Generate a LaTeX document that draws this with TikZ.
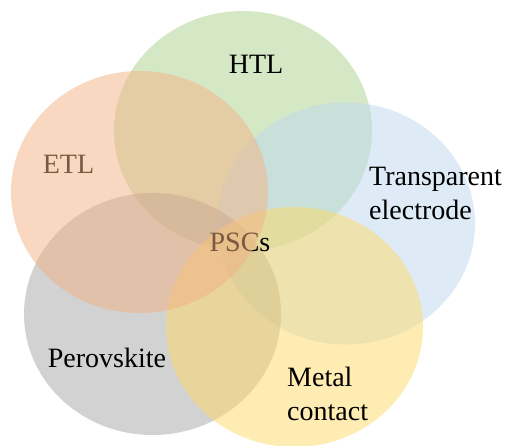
\documentclass[tikz,border=0pt]{standalone}
\usepackage{fontspec}
\setmainfont{Liberation Serif}
\definecolor{cgreen}{HTML}{A9D18E}
\definecolor{corange}{HTML}{F4B183}
\definecolor{cblue}{HTML}{BDD7EE}
\definecolor{cgray}{HTML}{A5A5A5}
\definecolor{cyellow}{HTML}{FFD966}
\tikzset{
  blob/.style={fill=#1, fill opacity=0.5, draw=none},
  lbl/.style={font=\fontsize{28}{34}\selectfont, text=black, inner sep=0pt, align=left}
}
\begin{document}
\begin{tikzpicture}[x=1pt,y=1pt]
\useasboundingbox (0,0) rectangle (505,445);
\fill[blob=cgreen] (243,314) ellipse [x radius=129, y radius=120];
\fill[blob=cblue] (346,221.5) ellipse [x radius=129, y radius=121];
\fill[blob=cgray] (152.5,131) ellipse [x radius=128.5, y radius=121];
\fill[blob=cyellow] (294.5,118) ellipse [x radius=128.5, y radius=120];
\node[lbl, anchor=base] (htl) at (256,371) {HTL};
\node[lbl, anchor=base west] (te) at (369,226) {Transparent\\electrode};
\node[lbl, anchor=base] (psc) at (240,194) {PSCs};
\node[lbl, anchor=base] (per) at (107,78) {Perovskite};
\node[lbl, anchor=base west] (mc) at (287,25) {Metal\\contact};
\node[lbl, anchor=base] (etl) at (68.5,272) {ETL};
\fill[blob=corange] (139.5,253) ellipse [x radius=128.5, y radius=121];
\end{tikzpicture}
\end{document}
